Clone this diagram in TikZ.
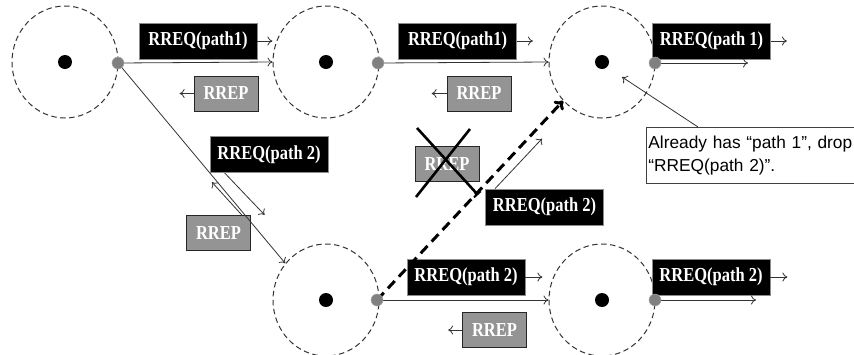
\documentclass[tikz,border=0pt]{standalone}
\usepackage{fontspec}
\setmainfont{Liberation Serif}
\newfontfamily\callfont{Liberation Sans}
\usetikzlibrary{arrows.meta,shapes.geometric}
\newcommand{\tallbf}[1]{\scalebox{1}[1.2]{#1}}
\begin{document}
\begin{tikzpicture}[x=1pt,y=-1pt,
  zone/.style={ellipse,draw=black!80,dash pattern=on 5.5pt off 3.5pt,line width=1pt,minimum width=106pt,minimum height=112pt,inner sep=0pt},
  hub/.style={circle,fill=black,minimum width=12pt,minimum height=14pt,inner sep=0pt},
  port/.style={circle,fill=black!50,draw=black!35,line width=0.5pt,minimum size=12pt,inner sep=0pt},
  boxfont/.style={font=\fontsize{16.5}{18}\selectfont\bfseries},
  req/.style={boxfont,fill=black,draw=black!45,line width=0.8pt,text=white,minimum width=118pt,minimum height=36pt,inner sep=0pt},
  rep/.style={boxfont,fill=black!42,draw=black!85,line width=0.8pt,text=white,minimum width=64pt,minimum height=35pt,inner sep=0pt},
  link/.style={draw=black!80,line width=0.8pt,-{To[length=5pt,width=9pt]}},
  crossline/.style={draw=black,line width=2.6pt},
  bigdash/.style={draw=black,line width=3pt,dash pattern=on 10pt off 6pt,-{To[length=8pt,width=13pt,line width=3pt]}},
  note/.style={draw=black!75,fill=white,line width=0.8pt,font=\callfont\fontsize{17.3}{22.5}\selectfont,align=left,text width=230pt,minimum height=56pt,inner xsep=2pt,inner ysep=4pt,anchor=north west}
  ]
\useasboundingbox (0,0) rectangle (854,354);
\clip (0,0) rectangle (854,354);

% zones
\node[zone] (c1) at (65,62) {};
\node[zone] (c2) at (326,62) {};
\node[zone] (c3) at (602,62) {};
\node[zone] (c4) at (326,300) {};
\node[zone] (c5) at (602,300) {};

% ports
\coordinate (g1) at (118,63);
\coordinate (g2) at (378,63);
\coordinate (g3) at (655,63);
\coordinate (g4) at (377,300);
\coordinate (g5) at (655,300);

% message boxes
\node[req] (q1) at (198,41) {\tallbf{RREQ(path1)}};
\node[rep] (p1) at (226,93.5) {\tallbf{RREP}};
\node[req] (q2) at (457.5,41) {\tallbf{RREQ(path1)}};
\node[rep] (p2) at (479,93.5) {\tallbf{RREP}};
\node[req] (q3) at (711.5,41) {\tallbf{RREQ(path 1)}};
\node[req] (q4) at (269,154.5) {\tallbf{RREQ(path 2)}};
\node[rep] (p4) at (218.5,233) {\tallbf{RREP}};
\node[rep] (px) at (447,164) {\tallbf{RREP}};
\node[req] (q5) at (544.5,207) {\tallbf{RREQ(path 2)}};
\node[req] (q6) at (466,277) {\tallbf{RREQ(path 2)}};
\node[rep] (p6) at (494.5,330) {\tallbf{RREP}};
\node[req] (q7) at (711,277) {\tallbf{RREQ(path 2)}};

% callout
\node[note] (call) at (646,127) {Already has “path 1”, drop\\“RREQ(path 2)”.};
\coordinate (tip3) at (622,77);
\draw[link] ([xshift=52pt]call.north west) -- (tip3);

% row 1 links
\draw[link] (g1) -- (c2.west);
\draw[link] (q1.east) -- ++(15,0);
\draw[link] (p1.west) -- ++(-14,0);
\draw[link] (g2) -- (c3.west);
\draw[link] (q2.east) -- ++(16,0);
\draw[link] (p2.west) -- ++(-15,0);
\draw[link] (q3.east) -- ++(16,0);
\draw[link] (g3) -- ++(93,0);

% path 2 diagonal
\draw[link] (g1) -- (c4.138);
\draw[link] ([xshift=15pt]q4.south west) -- ++(40,42);
\draw[link] ([xshift=-9pt]p4.north east) -- ++(-30,-33);

% crossed RREP
\draw[crossline,-{Bar[width=9pt,line width=2pt]}] (417,128) -- (478,195);
\draw[crossline] (470,129) -- (416,197);

% dashed path to c3
\draw[bigdash] (g4) -- (c3.225);
\draw[link] ([xshift=10pt]q5.north west) -- ++(47,-50);

% row 2 links
\draw[link] (g4) -- (c5.west);
\draw[link] (q6.east) -- ++(17,0);
\draw[link] (p6.west) -- ++(-14,0);
\draw[link] (q7.east) -- ++(17,0);
\draw[link] (g5) -- ++(101,0);

% dots
\node[hub] (d1) at (c1) {};
\node[hub] (d2) at (c2) {};
\node[hub] (d3) at (c3) {};
\node[hub] (d4) at (c4) {};
\node[hub] (d5) at (c5) {};
\node[port] (o1) at (g1) {};
\node[port] (o2) at (g2) {};
\node[port] (o3) at (g3) {};
\node[port] (o4) at (g4) {};
\node[port] (o5) at (g5) {};
\end{tikzpicture}
\end{document}
